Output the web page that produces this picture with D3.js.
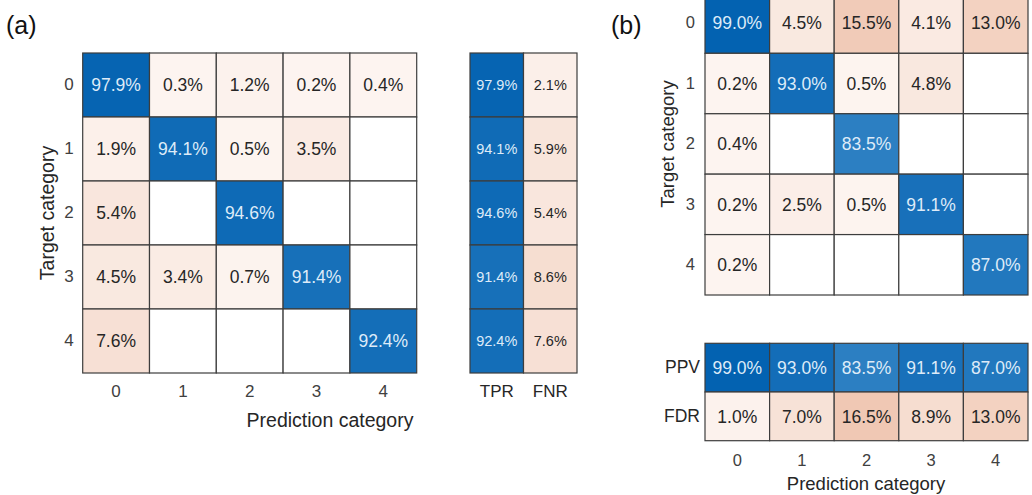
<!DOCTYPE html>
<html>
<head>
<meta charset="utf-8">
<script src="https://cdn.jsdelivr.net/npm/d3@7"></script>
<style>
  body { margin: 0; background: #fff; }
  svg { display: block; }
  text { font-family: "Liberation Sans", Arial, Helvetica, sans-serif; }
</style>
</head>
<body>
<svg id="chart" width="1032" height="495"></svg>
<script>
// Class labels shared by both confusion charts
const categories = ["0", "1", "2", "3", "4"];

// (a) row-normalized confusion matrix, % (null = empty cell)
const matrixA = [
  [97.9, 0.3, 1.2, 0.2, 0.4],
  [1.9, 94.1, 0.5, 3.5, null],
  [5.4, null, 94.6, null, null],
  [4.5, 3.4, 0.7, 91.4, null],
  [7.6, null, null, null, 92.4]
];
const rateLabelsA = ["TPR", "FNR"];
const tprA = [97.9, 94.1, 94.6, 91.4, 92.4];
const fnrA = [2.1, 5.9, 5.4, 8.6, 7.6];

// (b) column-normalized confusion matrix, %
const matrixB = [
  [99.0, 4.5, 15.5, 4.1, 13.0],
  [0.2, 93.0, 0.5, 4.8, null],
  [0.4, null, 83.5, null, null],
  [0.2, 2.5, 0.5, 91.1, null],
  [0.2, null, null, null, 87.0]
];
const rateLabelsB = ["PPV", "FDR"];
const ppvB = [99.0, 93.0, 83.5, 91.1, 87.0];
const fdrB = [1.0, 7.0, 16.5, 8.9, 13.0];

const svg = d3.select("#chart");

// Colour scales: blue for correct predictions, orange tint for errors
const goodColor = d3.scaleLinear().domain([80, 100]).range(["#3585c6", "#0060b0"]).clamp(true);
const badColor = d3.scaleLinear().domain([0, 16.5]).range(["#fdf5f1", "#f0c8b4"]).clamp(true);
const gridStroke = "#3d3d3d";

function drawCells(g, cells, xs, ys, cellFont) {
  const cg = g.append("g");
  const sel = cg.selectAll("g.cell").data(cells).join("g").attr("class", "cell");
  sel.append("rect")
    .attr("x", d => xs(d.col))
    .attr("y", d => ys(d.row))
    .attr("width", xs.bandwidth())
    .attr("height", ys.bandwidth())
    .attr("fill", d => d.value == null ? "#ffffff" : (d.good ? goodColor(d.value) : badColor(d.value)))
    .attr("stroke", gridStroke)
    .attr("stroke-width", 1.2);
  sel.filter(d => d.value != null).append("text")
    .attr("x", d => xs(d.col) + xs.bandwidth() / 2)
    .attr("y", d => ys(d.row) + ys.bandwidth() / 2)
    .attr("dy", "0.36em")
    .attr("text-anchor", "middle")
    .attr("font-size", cellFont)
    .attr("fill", d => d.good ? "#deebf8" : "#262626")
    .text(d => d.value.toFixed(1) + "%");
}

function matrixCells(m) {
  const out = [];
  m.forEach((row, i) => row.forEach((v, j) => out.push({
    row: categories[i], col: categories[j], value: v, good: i === j
  })));
  return out;
}

function styleAxis(g, size, color) {
  g.select(".domain").remove();
  g.selectAll("text").attr("font-size", size).attr("fill", color).attr("font-family", null);
}

// ---------- Panel (a) ----------
{
  const x = d3.scaleBand().domain(categories).range([82.7, 416.7]);
  const y = d3.scaleBand().domain(categories).range([53, 373]);
  const xr = d3.scaleBand().domain(rateLabelsA).range([470, 577]);
  const g = svg.append("g");

  drawCells(g, matrixCells(matrixA), x, y, "17.5px");

  const rateCells = [];
  categories.forEach((c, i) => {
    rateCells.push({ row: c, col: "TPR", value: tprA[i], good: true });
    rateCells.push({ row: c, col: "FNR", value: fnrA[i], good: false });
  });
  drawCells(g, rateCells, xr, y, "14.5px");

  g.append("g").attr("transform", "translate(82.7,0)")
    .call(d3.axisLeft(y).tickSize(0).tickPadding(9))
    .call(a => styleAxis(a, "17px", "#404040"));
  g.append("g").attr("transform", "translate(0,373)")
    .call(d3.axisBottom(x).tickSize(0).tickPadding(12))
    .call(a => styleAxis(a, "17px", "#404040"));
  g.append("g").attr("transform", "translate(0,373)")
    .call(d3.axisBottom(xr).tickSize(0).tickPadding(12))
    .call(a => styleAxis(a, "17px", "#262626"));

  g.append("text").attr("x", 330).attr("y", 427)
    .attr("text-anchor", "middle").attr("font-size", "19.5px").attr("fill", "#262626")
    .text("Prediction category");
  g.append("text").attr("transform", "translate(54,213) rotate(-90)")
    .attr("text-anchor", "middle").attr("font-size", "19.5px").attr("fill", "#262626")
    .text("Target category");
  g.append("text").attr("x", 6).attr("y", 34)
    .attr("font-size", "25px").attr("fill", "#111")
    .text("(a)");
}

// ---------- Panel (b) ----------
{
  const x = d3.scaleBand().domain(categories).range([705, 1028]);
  const y = d3.scaleBand().domain(categories).range([-7.1, 295]);
  const yr = d3.scaleBand().domain(rateLabelsB).range([343.3, 440.7]);
  const g = svg.append("g");

  drawCells(g, matrixCells(matrixB), x, y, "17.5px");

  const rateCells = [];
  categories.forEach((c, j) => {
    rateCells.push({ row: "PPV", col: c, value: ppvB[j], good: true });
    rateCells.push({ row: "FDR", col: c, value: fdrB[j], good: false });
  });
  drawCells(g, rateCells, x, yr, "17.5px");

  g.append("g").attr("transform", "translate(705,0)")
    .call(d3.axisLeft(y).tickSize(0).tickPadding(10))
    .call(a => styleAxis(a, "16.5px", "#404040"));
  g.append("g").attr("transform", "translate(705,0)")
    .call(d3.axisLeft(yr).tickSize(0).tickPadding(5))
    .call(a => styleAxis(a, "17.5px", "#262626"));
  g.append("g").attr("transform", "translate(0,440.7)")
    .call(d3.axisBottom(x).tickSize(0).tickPadding(14))
    .call(a => styleAxis(a, "16.5px", "#404040"));

  g.append("text").attr("x", 866).attr("y", 490)
    .attr("text-anchor", "middle").attr("font-size", "18.5px").attr("fill", "#262626")
    .text("Prediction category");
  g.append("text").attr("transform", "translate(674,144) rotate(-90)")
    .attr("text-anchor", "middle").attr("font-size", "18.5px").attr("fill", "#262626")
    .text("Target category");
  g.append("text").attr("x", 611).attr("y", 34)
    .attr("font-size", "25px").attr("fill", "#111")
    .text("(b)");
}
</script>
</body>
</html>
